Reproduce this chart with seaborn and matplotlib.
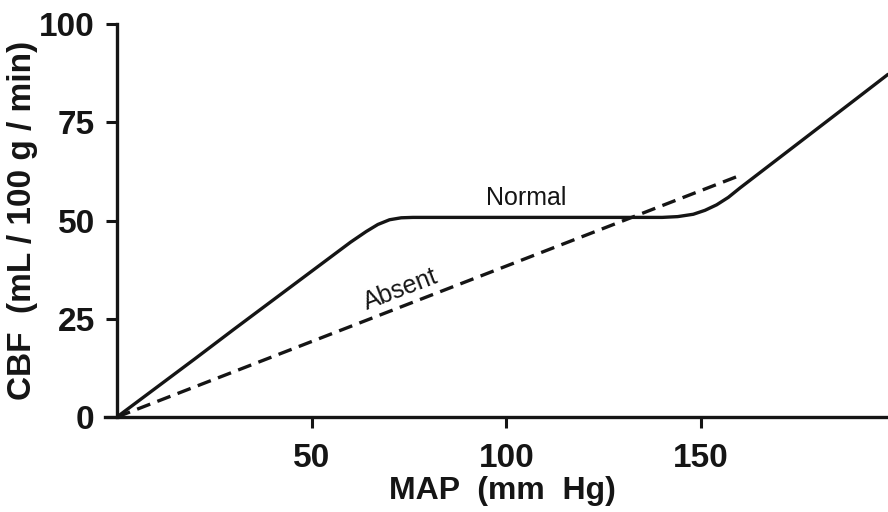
import seaborn as sns
import matplotlib.pyplot as plt
import pandas as pd

# (MAP in mm Hg, CBF in mL/100 g/min)
normal_map = [0, 10, 20, 30, 40, 50, 60, 64, 67, 70, 73, 76, 80, 100, 120, 140,
              144, 148, 151, 154, 157, 160, 170, 180, 190, 198]
normal_cbf = [0, 7.4, 14.8, 22.3, 29.7, 37.1, 44.5, 47.2, 49.0, 50.2, 50.7, 50.8,
              50.8, 50.8, 50.8, 50.8, 51.0, 51.6, 52.6, 54.0, 55.9, 58.3, 65.9,
              73.5, 81.1, 87.2]
absent_map = [0, 159]
absent_cbf = [0, 61.1]

x_ticks = [50, 100, 150]
y_ticks = [0, 25, 50, 75, 100]

sns.set_style("ticks")
plt.rcParams["font.family"] = ["Liberation Sans", "DejaVu Sans"]

normal = pd.DataFrame({"MAP": normal_map, "CBF": normal_cbf})
absent = pd.DataFrame({"MAP": absent_map, "CBF": absent_cbf})

fig = plt.figure(figsize=(8.88, 5.12), dpi=100)
ax = fig.add_axes([0.1317, 0.1855, 0.8683, 0.7675])

ink = "#151515"
sns.lineplot(data=normal, x="MAP", y="CBF", ax=ax, color=ink, lw=2.4,
             estimator=None, sort=False)
sns.lineplot(data=absent, x="MAP", y="CBF", ax=ax, color=ink, lw=2.4,
             estimator=None, sort=False)
ax.lines[-1].set_dashes((4.2, 2.3))

ax.set_xlim(0, 198)
ax.set_ylim(0, 100)
ax.set_xticks(x_ticks)
ax.set_yticks(y_ticks)
ax.tick_params(axis="both", length=8, width=2.2, labelsize=24, colors=ink)
ax.tick_params(axis="x", pad=11)
ax.tick_params(axis="y", pad=8)
for lab in ax.get_xticklabels() + ax.get_yticklabels():
    lab.set_fontweight("bold")
for side in ["left", "bottom"]:
    ax.spines[side].set_linewidth(2.4)
    ax.spines[side].set_color(ink)
sns.despine(ax=ax)
ax.spines["bottom"].set_bounds(-3, 198)

ax.set_xlabel("MAP  (mm  Hg)", fontsize=23, fontweight="bold", labelpad=1, color=ink)
ax.set_ylabel("CBF  (mL / 100 g / min)", fontsize=24, fontweight="bold", labelpad=1, color=ink)

ax.text(105, 55.7, "Normal", fontsize=18, ha="center", va="center", color=ink)
ax.text(73, 32.5, "Absent", fontsize=18, ha="center", va="center", rotation=21, color=ink)

fig.savefig("out.png", dpi=100)
